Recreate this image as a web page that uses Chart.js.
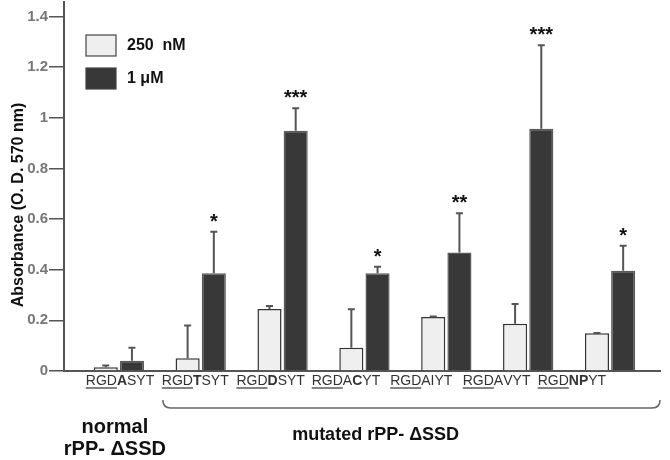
<!DOCTYPE html>
<html>
<head>
<meta charset="utf-8">
<script src="https://cdn.jsdelivr.net/npm/chart.js@4.4.0/dist/chart.umd.min.js"></script>
<style>
  html, body { margin: 0; padding: 0; background: #fff; }
  #absChart { display: block; }
</style>
</head>
<body>
<canvas id="absChart" width="670" height="460"></canvas>
<script>
// sequences under each group, letters drawn bold, "RGD" is underlined
const sequences = ['RGDASYT', 'RGDTSYT', 'RGDDSYT', 'RGDACYT', 'RGDAIYT', 'RGDAVYT', 'RGDNPYT'];
const boldLetters = [[3], [3], [3], [4], [], [], [3, 4]];

const mean250 = [0.015, 0.05, 0.245, 0.092, 0.213, 0.187, 0.149];
const sd250 = [0.007, 0.13, 0.012, 0.152, 0.002, 0.078, 0.001];
const mean1u = [0.04, 0.386, 0.949, 0.386, 0.468, 0.957, 0.396];
const sd1u = [0.052, 0.164, 0.088, 0.026, 0.155, 0.329, 0.099];
const stars1u = ['', '*', '***', '*', '**', '***', '*'];

const yTicks = [0, 0.2, 0.4, 0.6, 0.8, 1, 1.2, 1.4];
const seriesNames = ['250  nM', '1 μM'];

const FONT = '"Liberation Sans", Arial, sans-serif';

const ctx = document.getElementById('absChart').getContext('2d');

const toPoints = arr => arr.map((v, i) => ({ x: i, y: v }));

// error bars + significance stars
const errorBarsPlugin = {
    id: 'errorBars',
    afterDatasetsDraw(chart) {
        const c = chart.ctx;
        const y = chart.scales.y;
        chart.data.datasets.forEach((ds, di) => {
            const meta = chart.getDatasetMeta(di);
            meta.data.forEach((bar, i) => {
                const top = y.getPixelForValue(ds.means[i] + ds.errors[i]);
                c.save();
                c.strokeStyle = '#555';
                c.lineWidth = 2;
                c.beginPath();
                c.moveTo(bar.x, bar.y);
                c.lineTo(bar.x, top);
                c.moveTo(bar.x - 3.5, top);
                c.lineTo(bar.x + 3.5, top);
                c.stroke();
                if (ds.stars && ds.stars[i]) {
                    c.fillStyle = '#111';
                    c.font = 'bold 20px ' + FONT;
                    c.textAlign = 'center';
                    c.textBaseline = 'alphabetic';
                    c.fillText(ds.stars[i], bar.x, top - 4);
                }
                c.restore();
            });
        });
    }
};

// legend in the top left corner of the plot
const boxLegendPlugin = {
    id: 'boxLegend',
    afterDraw(chart) {
        const c = chart.ctx;
        const area = chart.chartArea;
        chart.data.datasets.forEach((ds, i) => {
            const bx = area.left + 22;
            const by = area.top + 33 + i * 33;
            c.save();
            c.fillStyle = ds.backgroundColor;
            c.strokeStyle = '#444';
            c.lineWidth = 1.2;
            c.fillRect(bx, by, 30, 21);
            c.strokeRect(bx, by, 30, 21);
            c.fillStyle = '#111';
            c.font = 'bold 16px ' + FONT;
            c.textAlign = 'left';
            c.textBaseline = 'middle';
            c.fillText(ds.label, bx + 41, by + 11);
            c.restore();
        });
    }
};

// sequence labels, brace and group titles under the axis
const bottomTextPlugin = {
    id: 'bottomText',
    afterDraw(chart) {
        const c = chart.ctx;
        const x = chart.scales.x;
        const area = chart.chartArea;
        const base = area.bottom + 14;
        const regular = '14px ' + FONT;
        const bold = 'bold 14px ' + FONT;
        const starts = [];

        c.save();
        c.fillStyle = '#333';
        c.strokeStyle = '#333';
        c.textBaseline = 'alphabetic';
        c.textAlign = 'left';
        sequences.forEach((seq, i) => {
            const chars = seq.split('');
            const widths = chars.map((ch, k) => {
                c.font = boldLetters[i].includes(k) ? bold : regular;
                return c.measureText(ch).width;
            });
            const total = widths.reduce((a, b) => a + b, 0);
            const cx = x.getPixelForValue(0.014 + i * 0.92);
            let px = cx - total / 2;
            starts.push(px);
            const ulStart = px;
            let ulEnd = px;
            chars.forEach((ch, k) => {
                c.font = boldLetters[i].includes(k) ? bold : regular;
                c.fillText(ch, px, base);
                px += widths[k];
                if (k === 2) ulEnd = px;
            });
            c.lineWidth = 1.2;
            c.beginPath();
            c.moveTo(ulStart, base + 3);
            c.lineTo(ulEnd, base + 3);
            c.stroke();
        });

        // brace over the mutated group
        const bx1 = starts[1] + 1;
        const bx2 = area.right;
        const top = area.bottom + 29;
        const bot = area.bottom + 37;
        c.strokeStyle = '#666';
        c.lineWidth = 1.5;
        c.beginPath();
        c.moveTo(bx1, top);
        c.quadraticCurveTo(bx1, bot, bx1 + 8, bot);
        c.lineTo(bx2 - 8, bot);
        c.quadraticCurveTo(bx2, bot, bx2, top);
        c.stroke();

        c.fillStyle = '#111';
        c.textAlign = 'center';
        c.font = 'bold 20px ' + FONT;
        const nx = x.getPixelForValue(0) - 4;
        c.fillText('normal', nx, area.bottom + 62);
        c.fillText('rPP- ΔSSD', nx, area.bottom + 84);

        c.font = 'bold 18px ' + FONT;
        const mx = (x.getPixelForValue(0.014 + 0.92) + x.getPixelForValue(0.014 + 6 * 0.92)) / 2 - 8;
        c.fillText('mutated rPP- ΔSSD', mx, area.bottom + 69);
        c.restore();
    }
};

// rotated y axis title
const yTitlePlugin = {
    id: 'yTitle',
    afterDraw(chart) {
        const c = chart.ctx;
        c.save();
        c.translate(23, 205);
        c.rotate(-Math.PI / 2);
        c.fillStyle = '#111';
        c.font = 'bold 16px ' + FONT;
        c.textAlign = 'center';
        c.textBaseline = 'alphabetic';
        c.fillText('Absorbance (O. D. 570 nm)', 0, 0);
        c.restore();
    }
};

const chartConfig = {
    type: 'bar',
    data: {
        datasets: [{
            label: seriesNames[0],
            data: toPoints(mean250),
            means: mean250,
            errors: sd250,
            backgroundColor: '#efefef',
            borderColor: '#333',
            borderWidth: 1.5,
            barPercentage: 0.92,
            categoryPercentage: 0.64
        }, {
            label: seriesNames[1],
            data: toPoints(mean1u),
            means: mean1u,
            errors: sd1u,
            stars: stars1u,
            backgroundColor: '#383838',
            borderColor: '#5a5a5a',
            borderWidth: 1.5,
            barPercentage: 0.92,
            categoryPercentage: 0.64
        }]
    },
    options: {
        responsive: false,
        animation: false,
        layout: { padding: { top: 2, right: 10, bottom: 0, left: 0 } },
        plugins: {
            legend: { display: false },
            tooltip: { enabled: false }
        },
        scales: {
            x: {
                type: 'linear',
                offset: false,
                min: -0.67,
                max: 6.61,
                // one hidden tick per group so the bar width uses the group spacing
                afterBuildTicks: s => { s.ticks = sequences.map((_, i) => ({ value: i })); },
                ticks: { display: false },
                grid: { display: false },
                border: { display: true, color: '#555', width: 2 },
                afterFit: s => { s.height = 89; s.paddingLeft = 0; s.paddingRight = 0; }
            },
            y: {
                min: 0,
                max: 1.457,
                afterBuildTicks: s => { s.ticks = yTicks.map(v => ({ value: v })); },
                afterFit: s => { s.width = 64; s.paddingTop = 0; s.paddingBottom = 0; },
                grid: { drawOnChartArea: false, drawTicks: true, tickLength: 15, color: '#555', lineWidth: 1.5 },
                border: { display: true, color: '#555', width: 2 },
                ticks: {
                    color: '#777',
                    padding: 1,
                    font: { family: FONT, size: 15, weight: 'bold' },
                    callback: v => String(+Number(v).toFixed(1))
                }
            }
        }
    },
    plugins: [errorBarsPlugin, boxLegendPlugin, bottomTextPlugin, yTitlePlugin]
};

new Chart(ctx, chartConfig);
</script>
</body>
</html>
